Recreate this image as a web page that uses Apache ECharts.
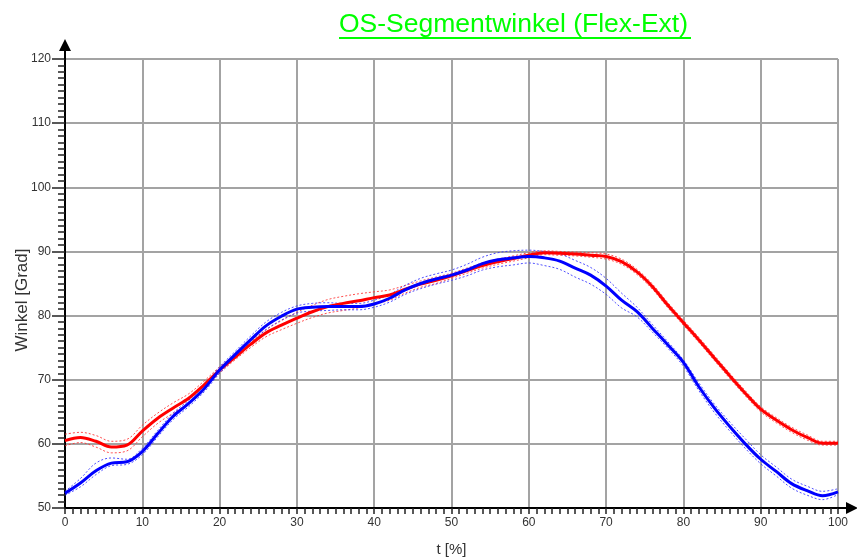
<!DOCTYPE html>
<html>
<head>
<meta charset="UTF-8">
<title>OS-Segmentwinkel (Flex-Ext)</title>
<style type="text/css">
	html, body { margin: 0; padding: 0; background: #fff; }
	#main { width: 857px; height: 558px; }
</style>
<script src="https://cdn.jsdelivr.net/npm/echarts@6/dist/echarts.min.js"></script>
</head>
<body>
<div id="main"></div>
<script>
	// t [%] Stützstellen
	var tWerte = [0, 2, 4, 6, 8, 10, 12, 14, 16, 18, 20, 22, 24, 26, 28, 30, 32, 34, 36, 38, 40,
		42, 44, 46, 48, 50, 52, 54, 56, 58, 60, 62, 64, 66, 68, 70, 72, 74, 76, 78, 80,
		82, 84, 86, 88, 90, 92, 94, 96, 98, 100];

	// rot: Mittelwert + obere / untere Grenze
	var rotMittel = [60.5, 61.0, 60.4, 59.5, 59.8, 62.0, 64.0, 65.6, 67.1, 69.2, 71.5, 73.5, 75.5, 77.3, 78.5, 79.6, 80.6, 81.4, 81.9, 82.3, 82.8,
		83.2, 84.1, 84.9, 85.5, 86.2, 87.0, 87.8, 88.4, 88.9, 89.4, 89.8, 89.7, 89.6, 89.4, 89.2, 88.4, 86.8, 84.5, 81.6, 78.9,
		76.2, 73.4, 70.6, 67.9, 65.4, 63.7, 62.2, 61.0, 60.1, 60.1];
	var rotOben = [61.5, 61.8, 61.3, 60.4, 60.7, 62.9, 64.8, 66.4, 67.8, 69.8, 72.0, 73.9, 75.9, 77.8, 79.2, 80.5, 81.6, 82.5, 83.0, 83.4, 83.7,
		84.0, 84.7, 85.4, 86.0, 86.6, 87.4, 88.2, 88.8, 89.3, 89.8, 90.1, 90.0, 89.9, 89.8, 89.6, 88.8, 87.2, 84.9, 82.0, 79.3,
		76.6, 73.8, 71.0, 68.3, 65.8, 64.1, 62.6, 61.4, 60.4, 60.4];
	var rotUnten = [59.7, 60.2, 59.5, 58.6, 58.9, 61.1, 63.2, 64.8, 66.4, 68.6, 71.0, 73.1, 75.0, 76.7, 77.8, 78.8, 79.7, 80.4, 80.8, 81.2, 81.8,
		82.4, 83.5, 84.4, 85.0, 85.8, 86.6, 87.4, 88.0, 88.5, 89.0, 89.5, 89.4, 89.3, 89.1, 88.8, 88.0, 86.4, 84.1, 81.2, 78.5,
		75.8, 73.0, 70.2, 67.5, 65.0, 63.3, 61.8, 60.6, 59.8, 59.8];

	// blau: Mittelwert + obere / untere Grenze
	var blauMittel = [52.3, 53.9, 55.8, 57.0, 57.2, 58.8, 61.6, 64.3, 66.3, 68.6, 71.5, 73.9, 76.2, 78.4, 79.9, 81.0, 81.3, 81.4, 81.4, 81.4, 81.8,
		82.7, 84.0, 85.0, 85.7, 86.3, 87.1, 88.1, 88.7, 89.0, 89.2, 89.0, 88.5, 87.4, 86.3, 84.6, 82.4, 80.6, 78.0, 75.4, 72.7,
		68.9, 65.6, 62.7, 60.0, 57.6, 55.7, 53.8, 52.7, 51.9, 52.5];
	var blauOben = [52.6, 54.6, 57.0, 57.8, 57.6, 59.3, 62.1, 64.8, 66.8, 69.1, 72.0, 74.4, 76.8, 79.0, 80.5, 81.5, 81.9, 82.0, 81.9, 81.9, 82.4,
		83.3, 84.7, 85.8, 86.5, 87.1, 88.0, 89.1, 89.8, 90.1, 90.2, 90.0, 89.6, 88.6, 87.5, 85.8, 83.5, 81.3, 78.6, 75.9, 73.1,
		69.5, 66.2, 63.4, 60.8, 58.3, 56.4, 54.5, 53.4, 52.6, 53.0];
	var blauUnten = [52.0, 53.3, 55.2, 56.6, 56.8, 58.3, 61.1, 63.8, 65.8, 68.1, 71.0, 73.4, 75.6, 77.8, 79.3, 80.4, 80.7, 80.8, 80.9, 80.9, 81.3,
		82.1, 83.3, 84.2, 84.9, 85.5, 86.2, 87.1, 87.6, 87.9, 88.2, 87.8, 87.2, 86.0, 84.9, 83.3, 81.2, 79.8, 77.4, 74.9, 72.1,
		68.3, 64.9, 62.0, 59.3, 56.9, 55.0, 53.1, 52.0, 51.3, 52.1];

	var chart = echarts.init(document.getElementById('main'));

	function paare(werte) {
		return tWerte.map(function (t, i) { return [t, werte[i]]; });
	}

	// Pfeil mit kurzem Stiel, zeigt nach oben (wird am Achsenende gedreht)
	var pfeil = 'path://M6,0L12,12L7,12L7,20L5,20L5,12L0,12Z';
	var schrift = "'Liberation Sans', Arial, sans-serif";

	function mittelLinie(name, farbe, werte) {
		return {
			name: name, type: 'line', data: paare(werte),
			showSymbol: false, smooth: 0.35, z: 5,
			lineStyle: { color: farbe, width: 3 }
		};
	}
	function grenzLinie(name, farbe, werte) {
		return {
			name: name, type: 'line', data: paare(werte),
			showSymbol: false, smooth: 0.35, z: 4,
			lineStyle: { color: farbe, width: 1, type: [2, 2], opacity: 0.85 }
		};
	}

	var option = {
		animation: false,
		backgroundColor: '#fff',
		title: {
			text: 'OS-Segmentwinkel (Flex-Ext)',
			left: 339, top: 11, padding: 0,
			textStyle: { color: '#00ff00', fontFamily: schrift, fontSize: 26.5, fontWeight: 'normal' }
		},
		graphic: [{
			type: 'line', shape: { x1: 339, y1: 38, x2: 691, y2: 38 },
			style: { stroke: '#00ff00', lineWidth: 2 }
		}],
		grid: { left: 65, right: 19, top: 59, bottom: 50, outerBoundsMode: 'none', containLabel: false },
		xAxis: {
			type: 'value', min: 0, max: 100, interval: 10,
			name: 't [%]', nameLocation: 'middle', nameGap: 34, nameMoveOverlap: false,
			nameTextStyle: { color: '#333', fontFamily: schrift, fontSize: 15 },
			axisLine: {
				show: true, onZero: false,
				lineStyle: { color: '#000', width: 2 },
				symbol: ['none', pfeil], symbolSize: [12, 20], symbolOffset: [0, 10]
			},
			axisTick: { show: true, length: 6, lineStyle: { color: '#222', width: 1.5 } },
			minorTick: { show: true, splitNumber: 10, length: 6, lineStyle: { color: '#222', width: 1.5 } },
			axisLabel: { color: '#333', fontFamily: schrift, fontSize: 12, margin: 9 },
			splitLine: { show: true, lineStyle: { color: '#a3a3a3', width: 2 } }
		},
		yAxis: {
			type: 'value', min: 50, max: 120, interval: 10,
			name: 'Winkel [Grad]', nameLocation: 'middle', nameGap: 34, nameMoveOverlap: false,
			nameTextStyle: { color: '#333', fontFamily: schrift, fontSize: 17, padding: [0, 33, 0, 0] },
			axisLine: {
				show: true, onZero: false,
				lineStyle: { color: '#000', width: 2 },
				symbol: ['none', pfeil], symbolSize: [12, 20], symbolOffset: [0, 10]
			},
			axisTick: { show: true, length: 13, lineStyle: { color: '#222', width: 1.5 } },
			minorTick: { show: true, splitNumber: 10, length: 7, lineStyle: { color: '#222', width: 1.5 } },
			axisLabel: { color: '#333', fontFamily: schrift, fontSize: 12, margin: 14 },
			splitLine: { show: true, lineStyle: { color: '#a3a3a3', width: 2 } }
		},
		series: [
			grenzLinie('rot oben', '#ff3030', rotOben),
			grenzLinie('rot unten', '#ff3030', rotUnten),
			grenzLinie('blau oben', '#3030ff', blauOben),
			grenzLinie('blau unten', '#3030ff', blauUnten),
			mittelLinie('rot', '#ff0000', rotMittel),
			mittelLinie('blau', '#0000ff', blauMittel)
		]
	};

	chart.setOption(option);
</script>
</body>
</html>
